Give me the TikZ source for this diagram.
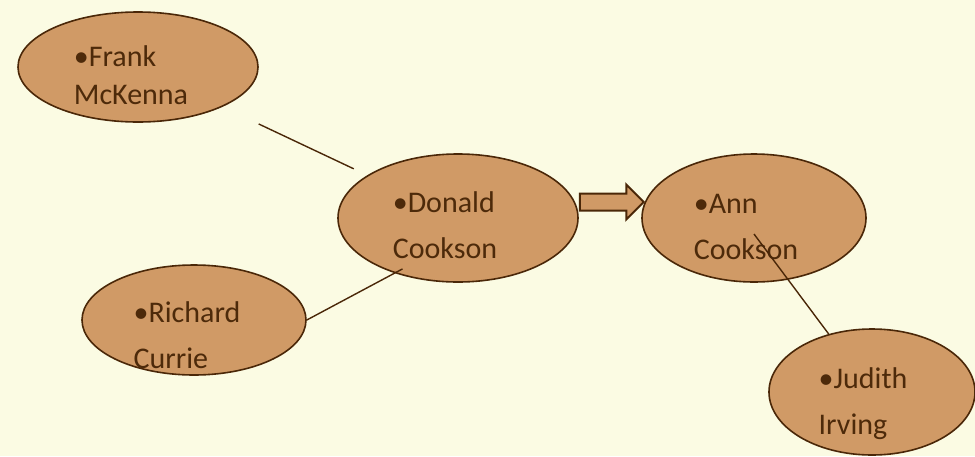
\documentclass[tikz,border=0pt]{standalone}
\usepackage{fontspec}
\setmainfont{Carlito}
\usepackage{xcolor}
\usepackage{tikz}
\usetikzlibrary{shapes.geometric, shapes.arrows, calc}
\definecolor{paper}{HTML}{FBFBE3}
\definecolor{tan}{HTML}{D09A66}
\definecolor{bark}{HTML}{4A2708}
\definecolor{ink}{HTML}{4D2A0A}
\tikzset{
    person/.style={ellipse, draw=bark, line width=1.6pt, fill=tan, inner sep=0pt},
    who/.style={align=left, text=ink, inner sep=0pt, font=\fontsize{30}{46}\selectfont},
    link/.style={draw=bark, line width=1.4pt},
    fatarrow/.style={single arrow, draw=bark, line width=2pt, fill=tan, inner sep=7.5pt, single arrow head extend=9pt, minimum height=64pt}
}

\begin{document}
\begin{tikzpicture}[x=1pt, y=-1pt]
    \fill [paper] (0,0) rectangle (975,456);
    \useasboundingbox (0,0) rectangle (975,456);

    \node (frank) [person, minimum width=240pt, minimum height=110pt] at (138,67) {};
    \node (donald) [person, minimum width=240pt, minimum height=128pt] at (458,218) {};
    \node (ann) [person, minimum width=224pt, minimum height=128pt] at (754,218) {};
    \node (richard) [person, minimum width=224pt, minimum height=110pt] at (194,320) {};
    \node (judith) [person, minimum width=206pt, minimum height=126pt] at (872,392) {};

    % names, a little left of and below the centres
    \node (frankname) [who, font=\fontsize{30}{38}\selectfont] at ([shift={(-7,8)}]frank.center) {\textbullet Frank\\McKenna};
    \node (donaldname) [who] at ([shift={(-13,7)}]donald.center) {\textbullet Donald\\Cookson};
    \node (annname) [who] at ([shift={(-8,9)}]ann.center) {\textbullet Ann\\Cookson};
    \node (richardname) [who] at ([shift={(-7,15)}]richard.center) {\textbullet Richard\\Currie};
    \node (judithname) [who] at ([shift={(-9,12)}]judith.center) {\textbullet Judith\\Irving};

    \node (push) [fatarrow, anchor=tail] at ([yshift=16pt]donald.east) {};

    \draw [link, shorten <=40pt, shorten >=15pt] (frank) -- (donald);
    \draw [link, shorten >=-9pt] (richard.east) -- (donald.221);
    \draw [link] ([yshift=-16pt]ann.center) -- (judith);
\end{tikzpicture}
\end{document}
